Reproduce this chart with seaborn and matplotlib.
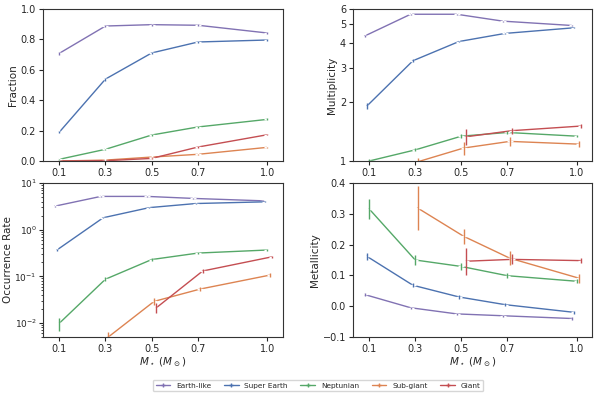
import numpy as np
import pandas as pd
import matplotlib
matplotlib.use("Agg")
import matplotlib.pyplot as plt
import seaborn as sns
from matplotlib.lines import Line2D

mass = [0.1, 0.3, 0.5, 0.7, 1.0]
series = ["Earth-like", "Super Earth", "Neptunian", "Sub-giant", "Giant"]
nan = np.nan

frac = {
    "Earth-like": [0.708, 0.888, 0.897, 0.893, 0.842],
    "Super Earth": [0.189, 0.539, 0.711, 0.783, 0.796],
    "Neptunian": [0.011, 0.077, 0.171, 0.224, 0.274],
    "Sub-giant": [0.0, 0.006, 0.026, 0.044, 0.090],
    "Giant": [0.0, 0.002, 0.017, 0.092, 0.173],
}
frac_err = {
    "Earth-like": [0.008, 0.006, 0.006, 0.006, 0.007],
    "Super Earth": [0.008, 0.010, 0.009, 0.008, 0.008],
    "Neptunian": [0.004, 0.005, 0.005, 0.005, 0.006],
    "Sub-giant": [0.001, 0.002, 0.003, 0.003, 0.004],
    "Giant": [0.001, 0.001, 0.003, 0.004, 0.005],
}
mult = {
    "Earth-like": [4.36, 5.64, 5.64, 5.20, 4.94],
    "Super Earth": [1.91, 3.26, 4.09, 4.50, 4.81],
    "Neptunian": [1.0, 1.14, 1.34, 1.40, 1.34],
    "Sub-giant": [nan, 0.99, 1.165, 1.26, 1.22],
    "Giant": [nan, nan, 1.33, 1.43, 1.51],
}
mult_err = {
    "Earth-like": [0.04, 0.03, 0.03, 0.03, 0.04],
    "Super Earth": [0.06, 0.05, 0.04, 0.04, 0.04],
    "Neptunian": [0.02, 0.02, 0.03, 0.03, 0.02],
    "Sub-giant": [nan, 0.05, 0.09, 0.06, 0.04],
    "Giant": [nan, nan, 0.12, 0.05, 0.03],
}
occ = {
    "Earth-like": [3.18, 5.16, 5.16, 4.67, 4.15],
    "Super Earth": [0.366, 1.80, 2.97, 3.63, 3.95],
    "Neptunian": [0.0098, 0.0867, 0.229, 0.315, 0.366],
    "Sub-giant": [nan, 0.0049, 0.029, 0.0534, 0.106],
    "Giant": [nan, nan, 0.0212, 0.130, 0.262],
}
occ_err = {
    "Earth-like": [0.08, 0.08, 0.08, 0.08, 0.08],
    "Super Earth": [0.02, 0.06, 0.08, 0.08, 0.08],
    "Neptunian": [0.003, 0.009, 0.012, 0.012, 0.012],
    "Sub-giant": [nan, 0.0015, 0.005, 0.006, 0.01],
    "Giant": [nan, nan, 0.005, 0.012, 0.015],
}
metal = {
    "Earth-like": [0.038, -0.005, -0.025, -0.031, -0.040],
    "Super Earth": [0.162, 0.068, 0.030, 0.005, -0.020],
    "Neptunian": [0.316, 0.150, 0.129, 0.099, 0.081],
    "Sub-giant": [nan, 0.319, 0.227, 0.156, 0.091],
    "Giant": [nan, nan, 0.146, 0.152, 0.148],
}
metal_err = {
    "Earth-like": [0.004, 0.004, 0.004, 0.004, 0.004],
    "Super Earth": [0.012, 0.006, 0.005, 0.005, 0.005],
    "Neptunian": [0.033, 0.017, 0.011, 0.008, 0.007],
    "Sub-giant": [nan, 0.07, 0.025, 0.023, 0.015],
    "Giant": [nan, nan, 0.044, 0.016, 0.008],
}

sns.set_theme(style="ticks", palette="deep")
plt.rcParams["font.family"] = ["DejaVu Sans"]
deep = sns.color_palette("deep")
colors = {"Earth-like": deep[4], "Super Earth": deep[0], "Neptunian": deep[2],
          "Sub-giant": deep[1], "Giant": deep[3]}
offsets = {"Earth-like": -0.02, "Super Earth": -0.01, "Neptunian": 0.0,
           "Sub-giant": 0.01, "Giant": 0.02}

fig = plt.figure(figsize=(5.98, 3.95), dpi=100)
W, H = 598, 395
def pos(l, r, t, b):
    return [l / W, 1 - b / H, (r - l) / W, (b - t) / H]

ax1 = fig.add_axes(pos(43, 283, 9, 161))
ax2 = fig.add_axes(pos(353, 592, 9, 161))
ax3 = fig.add_axes(pos(43, 283, 183, 337))
ax4 = fig.add_axes(pos(353, 592, 183, 337))

panels = [
    (ax1, frac, frac_err, "Fraction", False, False),
    (ax2, mult, mult_err, "Multiplicity", True, True),
    (ax3, occ, occ_err, "Occurrence Rate", True, True),
    (ax4, metal, metal_err, "Metallicity", False, True),
]

for ax, vals, errs, ylabel, logy, dodge in panels:
    rows = []
    for s in series:
        for m, v, e in zip(mass, vals[s], errs[s]):
            x = m + (offsets[s] if dodge else 0.0)
            rows.append({"x": x, "y": v, "err": e, "series": s})
    df = pd.DataFrame(rows).dropna()
    if logy:
        ax.set_yscale("log")
    sns.lineplot(data=df, x="x", y="y", hue="series", hue_order=series,
                 palette=colors, marker="+", markersize=5, markeredgewidth=1,
                 linewidth=1, ax=ax, legend=False, sort=False, errorbar=None)
    for s in series:
        d = df[df.series == s]
        ax.errorbar(d.x, d.y, yerr=d.err, fmt="none", ecolor=colors[s],
                    elinewidth=1, capsize=0)
    ax.set_xlim(0.03, 1.067)
    ax.set_xticks(mass)
    ax.set_xticklabels(["0.1", "0.3", "0.5", "0.7", "1.0"])
    ax.set_ylabel(ylabel, fontsize=7.5, labelpad=2)
    ax.set_xlabel("")
    ax.tick_params(labelsize=7, length=3, width=0.8, pad=2)
    ax.tick_params(which="minor", length=1.8, width=0.6)
    for sp in ax.spines.values():
        sp.set_linewidth(0.8)
        sp.set_color("0.2")

ax1.set_ylim(0, 1)
ax1.set_yticks([0, 0.2, 0.4, 0.6, 0.8, 1.0])
ax2.set_ylim(1, 6)
ax2.set_yticks([1, 2, 3, 4, 5, 6])
ax2.set_yticklabels(["1", "2", "3", "4", "5", "6"])
ax2.yaxis.set_minor_locator(matplotlib.ticker.NullLocator())
ax3.set_ylim(0.005, 10)
ax3.yaxis.set_minor_locator(matplotlib.ticker.LogLocator(base=10, subs=np.arange(2, 10), numticks=20))
ax3.yaxis.set_minor_formatter(matplotlib.ticker.NullFormatter())
ax3.tick_params(axis="y", labelsize=6.5, pad=1.5)
ax3.set_ylabel("Occurrence Rate", fontsize=7.5, labelpad=1)
ax4.set_ylim(-0.1, 0.4)
ax4.set_yticks([-0.1, 0.0, 0.1, 0.2, 0.3, 0.4])
ax4.set_yticklabels(["\u22120.1", "0.0", "0.1", "0.2", "0.3", "0.4"])

ax3.set_xlabel(r"$M_\star$ ($M_\odot$)", fontsize=7.5, labelpad=1)
ax4.set_xlabel(r"$M_\star$ ($M_\odot$)", fontsize=7.5, labelpad=1)

handles = [Line2D([], [], color=colors[s], marker="+", markersize=3, lw=1) for s in series]
fig.legend(handles, series, loc="lower center", bbox_to_anchor=(0.532, 0.0),
           ncol=5, fontsize=5.3, frameon=True, handlelength=2.0, columnspacing=1.7,
           borderpad=0.35, handletextpad=0.8)

fig.savefig("out.png", dpi=100)
